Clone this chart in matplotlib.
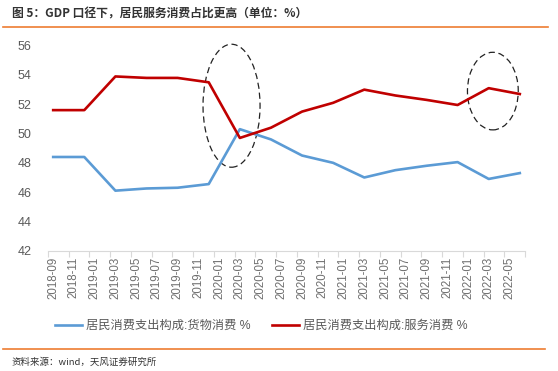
import matplotlib
matplotlib.use("Agg")
import matplotlib.pyplot as plt
from matplotlib.patches import Ellipse
from matplotlib.lines import Line2D

plt.rcParams['font.family'] = ['Liberation Sans', 'Noto Sans CJK SC', 'DejaVu Sans']

# quarterly data, share of household consumption (%)
dates = ['2018-09', '2018-12', '2019-03', '2019-06', '2019-09', '2019-12',
         '2020-03', '2020-06', '2020-09', '2020-12', '2021-03', '2021-06',
         '2021-09', '2021-12', '2022-03', '2022-06']
goods = [48.4, 48.4, 46.1, 46.25, 46.3, 46.55, 50.3, 49.6,
         48.5, 48.0, 47.0, 47.5, 47.8, 48.05, 46.9, 47.3]
services = [51.6, 51.6, 53.9, 53.8, 53.8, 53.5, 49.7, 50.4,
            51.5, 52.1, 53.0, 52.6, 52.3, 51.95, 53.1, 52.7]

start_year, start_month = 2018, 9
n_months = 46
month_labels = []
for i in range(n_months):
    m = start_month - 1 + i
    month_labels.append('%d-%02d' % (start_year + m // 12, m % 12 + 1))

def month_index(s):
    y, m = s.split('-')
    return (int(y) - start_year) * 12 + int(m) - start_month

xs = [month_index(d) for d in dates]

blue = '#5B9BD5'
red = '#C00000'
gray = '#595959'
orange = '#ED7D31'

fig = plt.figure(figsize=(5.58, 3.71), dpi=100)
ax = fig.add_axes([48/558, 1-250.7/371, (525-48)/558, (250.7-45.7)/371])

ax.plot(xs, goods, color=blue, lw=1.9, label='居民消费支出构成:货物消费 %')
ax.plot(xs, services, color=red, lw=1.9, label='居民消费支出构成:服务消费 %')

ax.set_xlim(-0.5, n_months - 0.5)
ax.set_ylim(42, 56)
ax.set_yticks(range(42, 57, 2))
ax.set_xticks(range(0, n_months, 2))
ax.set_xticklabels(month_labels[::2], rotation=90, fontsize=8.3, color='#6f6f6f')
ax.set_xticks([k - 0.5 for k in range(0, n_months + 1, 2)], minor=True)
ax.tick_params(axis='x', which='major', length=0, pad=4)
ax.tick_params(axis='x', which='minor', length=4, color='#D9D9D9', width=0.8)
ax.tick_params(axis='y', length=0, labelsize=9, labelcolor=gray, pad=12)
for s in ['top', 'right', 'left']:
    ax.spines[s].set_visible(False)
ax.spines['bottom'].set_color('#D9D9D9')
ax.spines['bottom'].set_linewidth(0.8)

# dashed circles highlighting the crossover and latest quarter
ax.add_patch(Ellipse((17.2, 51.9), 5.5, 8.4, fill=False, ec='#222222',
                     lw=0.9, ls=(0, (5, 3)), clip_on=False))
ax.add_patch(Ellipse((42.4, 52.9), 4.9, 5.3, fill=False, ec='#222222',
                     lw=0.9, ls=(0, (5, 3)), clip_on=False))

leg = fig.legend(loc='center', bbox_to_anchor=(0.468, 1-326/371), ncol=2,
                 frameon=False, fontsize=8.8, handlelength=2.2,
                 handletextpad=0.3, columnspacing=1.8)
for t in leg.get_texts():
    t.set_color(gray)

fig.text(12/558, 1-14/371, '图 5：GDP 口径下，居民服务消费占比更高（单位：%）',
         fontsize=8.5, fontweight='bold', color='#333333', va='center',
         family=['Noto Sans CJK SC', 'DejaVu Sans'])
fig.add_artist(Line2D([3/558, 548/558], [1-27/371, 1-27/371],
                      color=orange, lw=1.2))
fig.add_artist(Line2D([3/558, 545/558], [1-349/371, 1-349/371],
                      color=orange, lw=1.2))
fig.text(11/558, 1-362/371, '资料来源：wind，天风证券研究所', fontsize=6.8,
         color='#333333', va='center',
         family=['Noto Sans CJK SC', 'DejaVu Sans'])

fig.savefig('out.png', dpi=100)
